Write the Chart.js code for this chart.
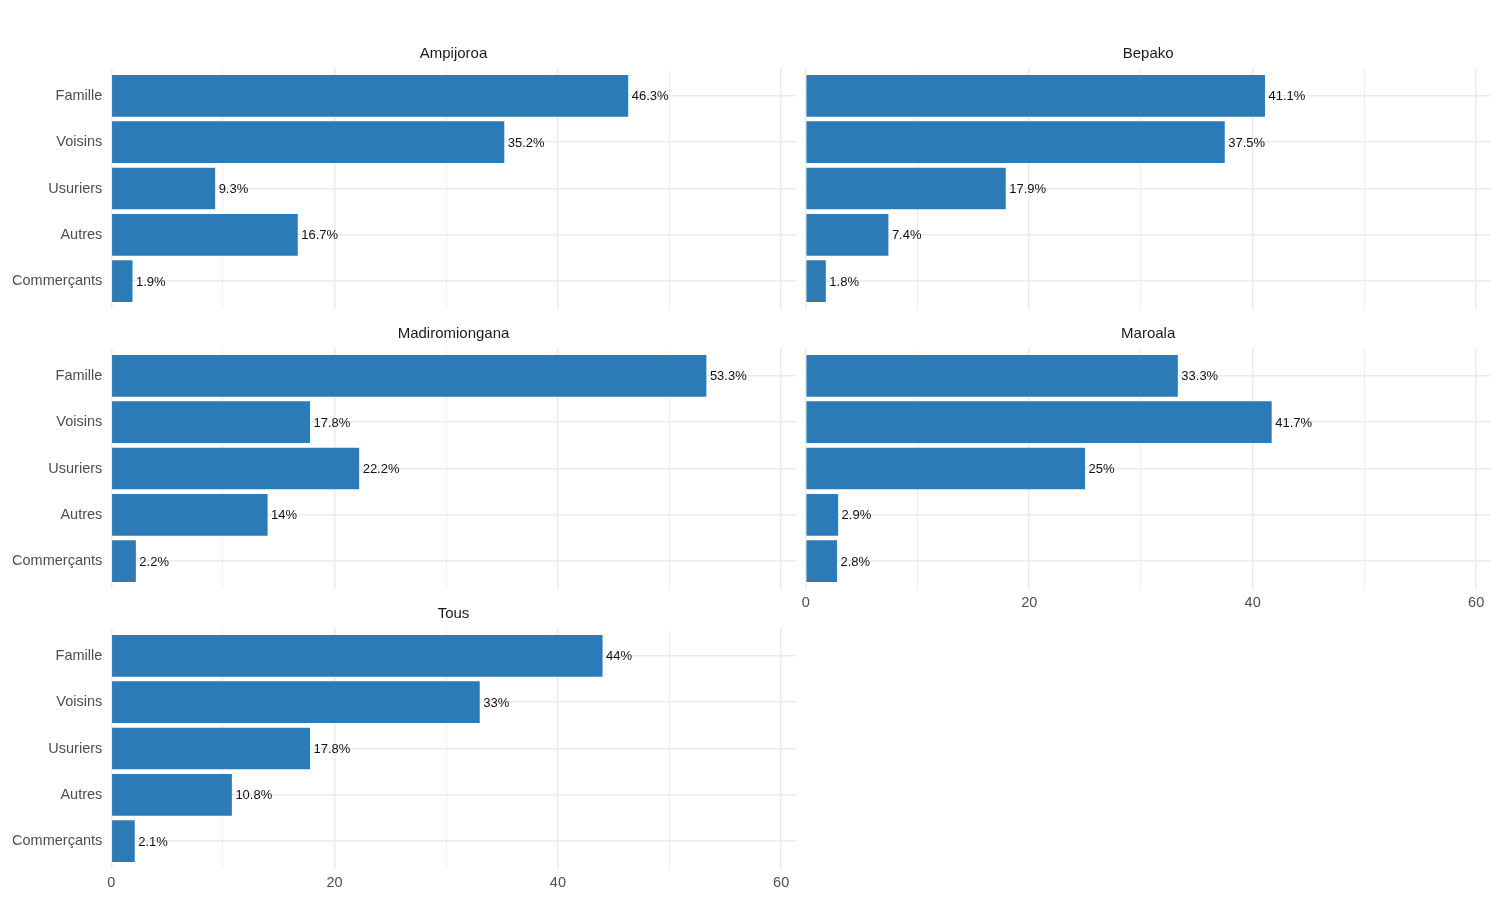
<!DOCTYPE html>
<html>
<head>
<meta charset="utf-8">
<title>Sources de crédit par site</title>
<script src="https://cdn.jsdelivr.net/npm/chart.js@4.4.1/dist/chart.umd.min.js"></script>
<style>
  html, body { margin: 0; padding: 0; background: #fff; }
  #page { position: relative; width: 1500px; height: 900px; overflow: hidden; }
  .panel { position: absolute; }
</style>
</head>
<body>
<div id="page"></div>
<script>
// --- Data ---
const categories = ['Famille', 'Voisins', 'Usuriers', 'Autres', 'Commerçants'];
const sites = ['Ampijoroa', 'Bepako', 'Madiromiongana', 'Maroala', 'Tous'];

const ampijoroa = [46.3, 35.2, 9.3, 16.7, 1.9];
const bepako = [41.1, 37.5, 17.9, 7.4, 1.8];
const madiromiongana = [53.3, 17.8, 22.2, 14, 2.2];
const maroala = [33.3, 41.7, 25, 2.9, 2.8];
const tous = [44, 33, 17.8, 10.8, 2.1];

const xTicks = [0, 20, 40, 60];
const xMax = 61.3; // 53.3 * 1.15

const FONT = "'Liberation Sans', Arial, Helvetica, sans-serif";
const BAR = '#2c7bb6';
const GRID = '#ebebeb';

// facet grid: which column/row each site goes in, and which axes get labels
const panels = [
  { title: sites[0], values: ampijoroa,      col: 0, row: 0, xLabels: false },
  { title: sites[1], values: bepako,         col: 1, row: 0, xLabels: false },
  { title: sites[2], values: madiromiongana, col: 0, row: 1, xLabels: false },
  { title: sites[3], values: maroala,        col: 1, row: 1, xLabels: true },
  { title: sites[4], values: tous,           col: 0, row: 2, xLabels: true }
];

// strip title above each panel
const stripTitle = {
  id: 'stripTitle',
  afterDraw(chart, args, opts) {
    const { ctx, chartArea } = chart;
    ctx.save();
    ctx.font = '15px ' + FONT;
    ctx.fillStyle = '#1a1a1a';
    ctx.textAlign = 'center';
    ctx.textBaseline = 'middle';
    ctx.fillText(opts.text, (chartArea.left + chartArea.right) / 2, chartArea.top - 14);
    ctx.restore();
  }
};

// percent label at the end of each bar
const barLabels = {
  id: 'barLabels',
  afterDatasetsDraw(chart) {
    const { ctx } = chart;
    const ds = chart.data.datasets[0];
    const meta = chart.getDatasetMeta(0);
    ctx.save();
    ctx.font = '13px ' + FONT;
    ctx.fillStyle = '#111';
    ctx.textAlign = 'left';
    ctx.textBaseline = 'middle';
    meta.data.forEach((bar, i) => {
      ctx.fillText(ds.data[i].x + '%', bar.x + 3.5, bar.y + 1);
    });
    ctx.restore();
  }
};

function makePanel(p) {
  const left = p.col === 0 ? 0 : 800;
  const width = p.col === 0 ? 800 : 700;
  const top = 30 + p.row * 280;
  const div = document.createElement('div');
  div.className = 'panel';
  div.style.left = left + 'px';
  div.style.top = top + 'px';
  div.style.width = width + 'px';
  div.style.height = '300px';
  const canvas = document.createElement('canvas');
  div.appendChild(canvas);
  document.getElementById('page').appendChild(div);

  new Chart(canvas, {
    type: 'bar',
    data: {
      datasets: [{
        data: categories.map((c, i) => ({ x: p.values[i], y: i })),
        backgroundColor: BAR,
        borderWidth: 0,
        categoryPercentage: 0.9,
        barPercentage: 1.0
      }]
    },
    options: {
      indexAxis: 'y',
      responsive: true,
      maintainAspectRatio: false,
      animation: false,
      layout: { padding: { top: 38, left: 0, right: p.col === 0 ? 4.3 : 9.3, bottom: 0 } },
      plugins: {
        legend: { display: false },
        tooltip: { enabled: false },
        title: { display: false },
        stripTitle: { text: p.title }
      },
      scales: {
        x: {
          type: 'linear',
          min: 0,
          max: xMax,
          border: { display: false },
          grid: {
            color: GRID,
            drawTicks: false,
            lineWidth: ctx => (ctx.tick && ctx.tick.value % 20 === 0) ? 1.5 : 0.9
          },
          ticks: {
            display: p.xLabels,
            stepSize: 10,
            includeBounds: false,
            padding: 5,
            color: '#4d4d4d',
            font: { family: FONT, size: 14.5 },
            callback: v => xTicks.includes(v) ? String(v) : ''
          },
          afterFit: scale => {
            scale.height = 21;
            scale.paddingLeft = 0;
            scale.paddingRight = 0;
          }
        },
        y: {
          type: 'linear',
          reverse: true,
          offset: false,
          min: -0.6,
          max: categories.length - 0.4,
          border: { display: false },
          grid: { color: GRID, lineWidth: 1.5, drawTicks: false, offset: false },
          ticks: {
            display: p.col === 0,
            stepSize: 1,
            includeBounds: false,
            autoSkip: false,
            padding: 9,
            color: '#4d4d4d',
            font: { family: FONT, size: 14.5 },
            callback: v => categories[v] !== undefined ? categories[v] : ''
          },
          afterFit: scale => {
            scale.width = p.col === 0 ? 111.3 : 5.7;
            scale.paddingTop = 0;
            scale.paddingBottom = 0;
          }
        }
      }
    },
    plugins: [stripTitle, barLabels]
  });
}

window.addEventListener('DOMContentLoaded', () => {
  panels.forEach(makePanel);
});
</script>
</body>
</html>
